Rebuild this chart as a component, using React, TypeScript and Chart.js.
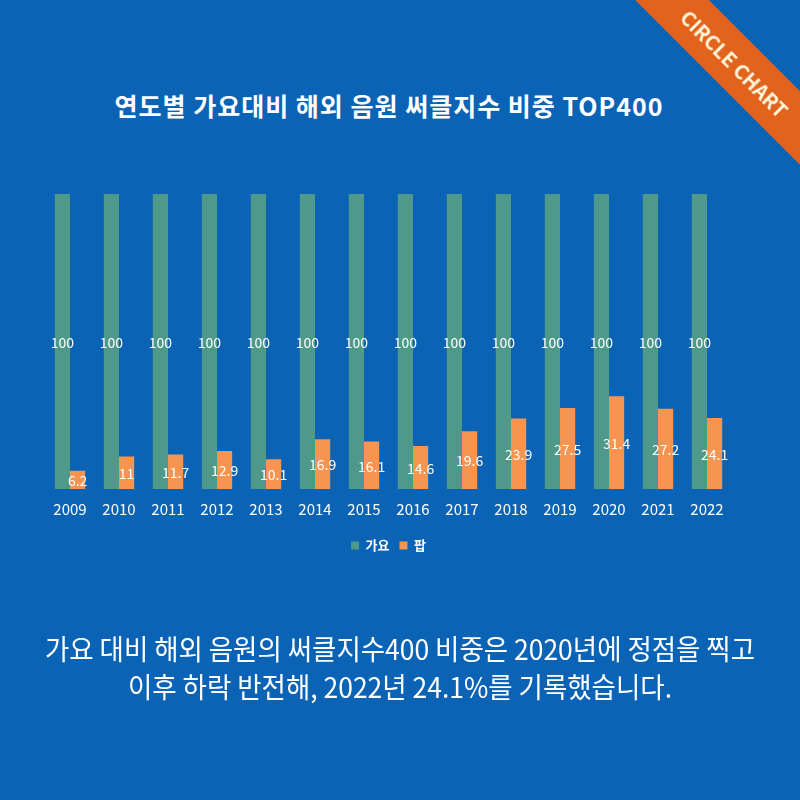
import React, { useEffect, useRef } from "react";
import { Chart, registerables } from "chart.js";

Chart.register(...registerables);

const years = ["2009", "2010", "2011", "2012", "2013", "2014", "2015", "2016", "2017", "2018", "2019", "2020", "2021", "2022"];
const gayoValues = [100, 100, 100, 100, 100, 100, 100, 100, 100, 100, 100, 100, 100, 100];
const popValues = [6.2, 11, 11.7, 12.9, 10.1, 16.9, 16.1, 14.6, 19.6, 23.9, 27.5, 31.4, 27.2, 24.1];
const seriesNames = ["가요", "팝"];

const BG = "#0a63b5";
const GREEN = "#4f998a";
const ORANGE = "#f79450";
const FONT = "'Noto Sans CJK KR', 'Noto Sans', sans-serif";

// Writes each bar's value in the middle of the bar
const valueLabels = {
  id: "valueLabels",
  afterDatasetsDraw(chart: any) {
    const ctx = chart.ctx;
    ctx.save();
    ctx.fillStyle = "#ffffff";
    ctx.font = `14px ${FONT}`;
    ctx.textAlign = "center";
    ctx.textBaseline = "middle";
    chart.data.datasets.forEach((ds: any, di: number) => {
      const meta = chart.getDatasetMeta(di);
      meta.data.forEach((el: any, i: number) => {
        const y = (el.y + el.base) / 2 + 1;
        ctx.fillText(String(ds.data[i]), el.x, y);
      });
    });
    ctx.restore();
  },
};

export default function App() {
  const canvasRef = useRef<HTMLCanvasElement>(null);

  useEffect(() => {
    const chart = new Chart(canvasRef.current!, {
      type: "bar",
      data: {
        labels: years,
        datasets: [
          { label: seriesNames[0], data: gayoValues, backgroundColor: GREEN, categoryPercentage: 0.62, barPercentage: 1 },
          { label: seriesNames[1], data: popValues, backgroundColor: ORANGE, categoryPercentage: 0.62, barPercentage: 1 },
        ],
      },
      options: {
        responsive: false,
        animation: false,
        layout: { padding: { left: 45.5, right: 68.5, top: 194, bottom: 238 } },
        scales: {
          x: {
            grid: { display: false },
            border: { display: false },
            ticks: { color: "#ffffff", font: { family: FONT, size: 15 }, padding: 3 },
            afterFit: (scale: any) => {
              // extra room between the year labels and the legend
              scale.height += 8;
            },
          },
          y: { display: false, min: 0, max: 100 },
        },
        plugins: {
          legend: {
            position: "bottom",
            labels: {
              color: "#ffffff",
              boxWidth: 8,
              boxHeight: 8,
              padding: 10,
              font: { family: FONT, size: 13, weight: "bold" },
            },
          },
          tooltip: { enabled: false },
        },
      },
      plugins: [valueLabels],
    });
    return () => chart.destroy();
  }, []);

  return (
    <div style={{ position: "fixed", left: 0, top: 0, width: 800, height: 800, background: BG, overflow: "hidden", fontFamily: FONT }}>
      <div
        style={{
          position: "absolute", left: 0, top: 87, width: 778, textAlign: "center",
          color: "#ffffff", fontSize: 25, fontWeight: 700, lineHeight: "36px", letterSpacing: 1,
        }}
      >
        연도별 가요대비 해외 음원 써클지수 비중 TOP400
      </div>
      <canvas ref={canvasRef} width={800} height={800} style={{ position: "absolute", left: 0, top: 0 }} />
      <div
        style={{
          position: "absolute", left: 0, top: 629, width: 800, textAlign: "center",
          color: "#ffffff", fontSize: 28, lineHeight: "38px", transform: "scaleX(0.945)",
        }}
      >
        <div>가요 대비 해외 음원의 써클지수400 비중은 2020년에 정점을 찍고</div>
        <div>이후 하락 반전해, 2022년 24.1%를 기록했습니다.</div>
      </div>
      <div
        style={{
          position: "absolute", left: 735 - 130, top: 63 - 26, width: 260, height: 52,
          background: "#e2631c", transform: "rotate(45deg)",
          display: "flex", alignItems: "center", justifyContent: "center",
          color: "#fff6dc", fontSize: 20, fontWeight: 700, letterSpacing: 0,
        }}
      >
        CIRCLE CHART
      </div>
    </div>
  );
}
